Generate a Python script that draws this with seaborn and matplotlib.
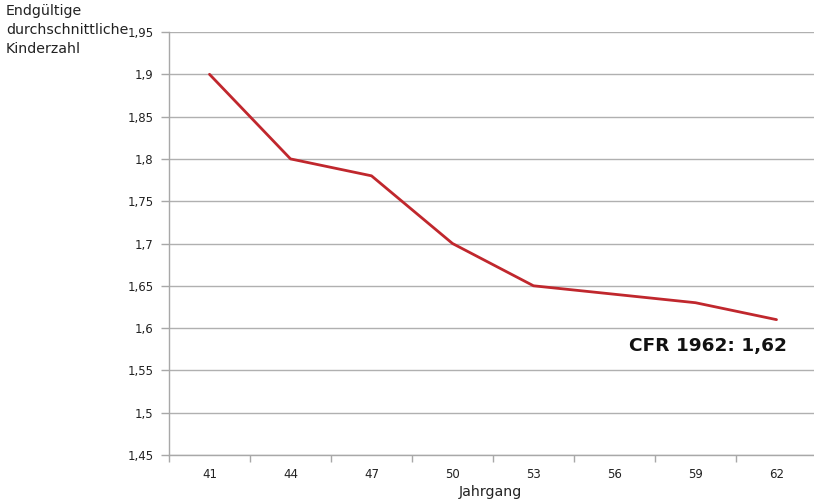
import matplotlib
matplotlib.use("Agg")
import matplotlib.pyplot as plt
import seaborn as sns
import pandas as pd
import numpy as np

jahrgang = ["41", "44", "47", "50", "53", "56", "59", "62"]
kinderzahl = [1.90, 1.80, 1.78, 1.70, 1.65, 1.64, 1.63, 1.61]
y_ticks = [1.45, 1.5, 1.55, 1.6, 1.65, 1.7, 1.75, 1.8, 1.85, 1.9, 1.95]
y_labels = ["1,45", "1,5", "1,55", "1,6", "1,65", "1,7", "1,75", "1,8", "1,85", "1,9", "1,95"]

sns.set_theme(style="white")
plt.rcParams['font.family'] = ['DejaVu Sans']

df = pd.DataFrame({"Jahrgang": jahrgang, "Kinderzahl": kinderzahl})
df["pos"] = np.arange(len(jahrgang))

W, H = 814, 501
fig = plt.figure(figsize=(W / 100, H / 100), dpi=100)
left, right, top, bottom = 169, 817, 32, 455
ax = fig.add_axes([left / W, 1 - bottom / H, (right - left) / W, (bottom - top) / H])

sns.lineplot(data=df, x="pos", y="Kinderzahl", ax=ax, color="#C0272D", linewidth=2)

ax.set_xlim(-0.5, len(jahrgang) - 0.5)
ax.set_ylim(1.45, 1.95)
ax.set_yticks(y_ticks)
ax.set_yticklabels(y_labels, fontsize=8.5, color="#222222")
ax.set_xticks(np.arange(len(jahrgang)))
ax.set_xticklabels(jahrgang, fontsize=8.5, color="#222222")
ax.set_xticks(np.arange(len(jahrgang)) - 0.5, minor=True)
ax.tick_params(axis="x", which="major", length=0, pad=9)
ax.tick_params(axis="x", which="minor", length=5, width=1, color="#a8a8a8", direction="out", bottom=True)
ax.tick_params(axis="y", which="major", length=6, width=1, color="#a8a8a8", direction="out", left=True, pad=5)

ax.grid(axis="y", color="#b0b0b0", linewidth=1)
ax.grid(axis="x", visible=False)
for s in ["top", "right"]:
    ax.spines[s].set_visible(False)
for s in ["left", "bottom"]:
    ax.spines[s].set_color("#a8a8a8")
    ax.spines[s].set_linewidth(1)

ax.set_xlabel("")
ax.set_ylabel("")
fig.text(490 / W, 1 - 492 / H, "Jahrgang", ha="center", va="center", fontsize=10.2, color="#222222")
fig.text(6 / W, 1 - 4 / H, "Endgültige\ndurchschnittliche\nKinderzahl", ha="left", va="top",
         fontsize=10.2, color="#222222", linespacing=1.45)

ax.text(6.15, 1.579, "CFR 1962: 1,62", ha="center", va="center", fontsize=13.3,
        fontweight="bold", color="#111111")

fig.savefig("out.png", dpi=100)
